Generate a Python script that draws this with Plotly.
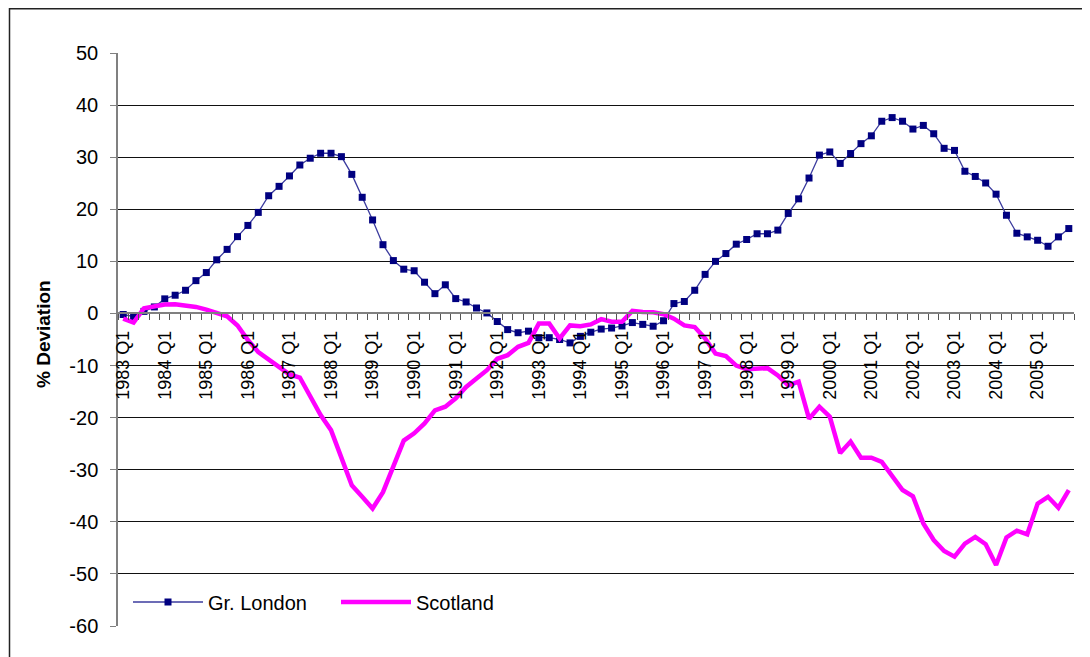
import plotly.graph_objects as go

years = list(range(1983, 2006))
quarters = [f"{y} Q{q}" for y in years for q in range(1, 5)]
label_positions = list(range(0, 92, 4))
tick_labels = [f"{y} Q1" for y in years]
y_ticks = list(range(-60, 51, 10))
y_tick_labels = [str(v) for v in y_ticks]

london = [
    -0.2, -0.6, 0.4, 1.25, 2.8, 3.5, 4.45, 6.3, 7.85, 10.3,
    12.3, 14.75, 16.9, 19.4, 22.6, 24.4, 26.4, 28.5, 29.8, 30.75,
    30.75, 30.1, 26.7, 22.3, 17.95, 13.2, 10.15, 8.5, 8.2, 6.0,
    3.8, 5.5, 2.85, 2.2, 1.05, 0.1, -1.55, -3.1, -3.7, -3.4,
    -4.65, -4.65, -5.0, -5.65, -4.4, -3.6, -3.0, -2.8, -2.4, -1.75,
    -2.1, -2.45, -1.4, 1.9, 2.3, 4.45, 7.5, 10.0, 11.5, 13.3,
    14.2, 15.3, 15.3, 16.0, 19.2, 22.0, 26.0, 30.4, 31.0, 28.8,
    30.7, 32.6, 34.1, 36.9, 37.6, 36.9, 35.4, 36.1, 34.5, 31.7,
    31.3, 27.3, 26.3, 25.05, 22.9, 18.85, 15.4, 14.7, 14.05, 12.9,
    14.7, 16.3,
]

scotland = [
    -1.0, -1.75, 1.0, 1.4, 1.7, 1.77, 1.5, 1.25, 0.75, 0.17,
    -0.55, -2.3, -5.1, -7.4, -8.8, -10.3, -11.7, -12.3, -16.0, -19.5,
    -22.4, -27.5, -33.0, -35.2, -37.45, -34.3, -29.1, -24.4, -23.0, -21.1,
    -18.6, -17.9, -16.3, -14.1, -12.5, -10.9, -8.7, -8.0, -6.4, -5.65,
    -1.95, -1.95, -4.8, -2.3, -2.45, -2.1, -1.1, -1.6, -1.6, 0.5,
    0.3, 0.23, -0.15, -1.0, -2.3, -2.6, -4.8, -7.7, -8.2, -10.0,
    -10.7, -10.7, -10.5, -11.9, -13.8, -13.1, -20.2, -17.9, -19.8, -26.8,
    -24.6, -27.7, -27.7, -28.5, -31.1, -33.9, -35.1, -40.3, -43.5, -45.6,
    -46.7, -44.2, -42.9, -44.3, -48.3, -43.0, -41.7, -42.4, -36.5, -35.2,
    -37.3, -33.9,
]

y_min, y_max = -60, 50
FONT = "Liberation Sans, Arial, sans-serif"

xs = list(range(len(quarters)))

fig = go.Figure()
fig.add_trace(go.Scatter(
    x=xs, y=london, name="Gr. London", mode="lines+markers",
    line=dict(color="#3b3b9e", width=1.3),
    marker=dict(symbol="square", size=7, color="#000080"),
    customdata=quarters,
))
fig.add_trace(go.Scatter(
    x=xs, y=scotland, name="Scotland", mode="lines",
    line=dict(color="#FF00FF", width=4.5),
    customdata=quarters,
))

# page has an 8px body margin; figure coordinates are page coordinates - 8
W, H = 1082, 649
ml, mr, mt, mb = 110, 16, 45, 31
pw = W - ml - mr
ph = H - mt - mb

fig.update_layout(
    width=W, height=H,
    margin=dict(l=ml, r=mr, t=mt, b=mb, autoexpand=False),
    paper_bgcolor="white", plot_bgcolor="white",
    font=dict(family=FONT, color="black"),
    showlegend=True,
    legend=dict(
        orientation="h", x=10 / pw, xanchor="left",
        y=1 - (594 - mt) / ph, yanchor="middle",
        font=dict(size=20, family=FONT), bgcolor="rgba(0,0,0,0)",
        itemwidth=70, entrywidth=123,
    ),
    xaxis=dict(
        range=[-0.5, len(quarters) - 0.5],
        anchor="free", position=(0 - y_min) / (y_max - y_min),
        automargin=False,
        showline=True, linecolor="#808080", linewidth=2,
        showgrid=False, zeroline=False,
        tickmode="array", tickvals=label_positions, ticktext=tick_labels,
        ticks="", tickangle=-90,
        tickfont=dict(size=18, family=FONT, color="black"),
        ticklabelstandoff=9,
        minor=dict(tickmode="linear", tick0=-0.5, dtick=1, ticks="outside",
                   ticklen=6, tickcolor="#555555", tickwidth=1, showgrid=False),
    ),
    yaxis=dict(
        range=[y_min, y_max], automargin=False,
        tickmode="array", tickvals=y_ticks, ticktext=y_tick_labels,
        showline=True, linecolor="#808080", linewidth=1.5,
        ticks="outside", ticklen=6, tickcolor="#808080",
        showgrid=True, gridcolor="#111111", gridwidth=1,
        zeroline=False, ticklabelstandoff=8,
        tickfont=dict(size=20, family=FONT, color="black"),
    ),
    annotations=[dict(
        text="<b>% Deviation</b>", textangle=-90,
        xref="paper", yref="paper",
        x=(35 - ml) / pw, y=1 - (326 - mt) / ph,
        xanchor="center", yanchor="middle", showarrow=False,
        font=dict(size=19, family=FONT, color="black"),
    )],
    shapes=[dict(
        type="rect", xref="paper", yref="paper",
        x0=(1.5 - ml) / pw, x1=1.2, y0=-0.3, y1=1 + (mt - 0.75) / ph,
        line=dict(color="#222222", width=1.5), layer="below",
    )],
)

fig.write_html("out.html")
